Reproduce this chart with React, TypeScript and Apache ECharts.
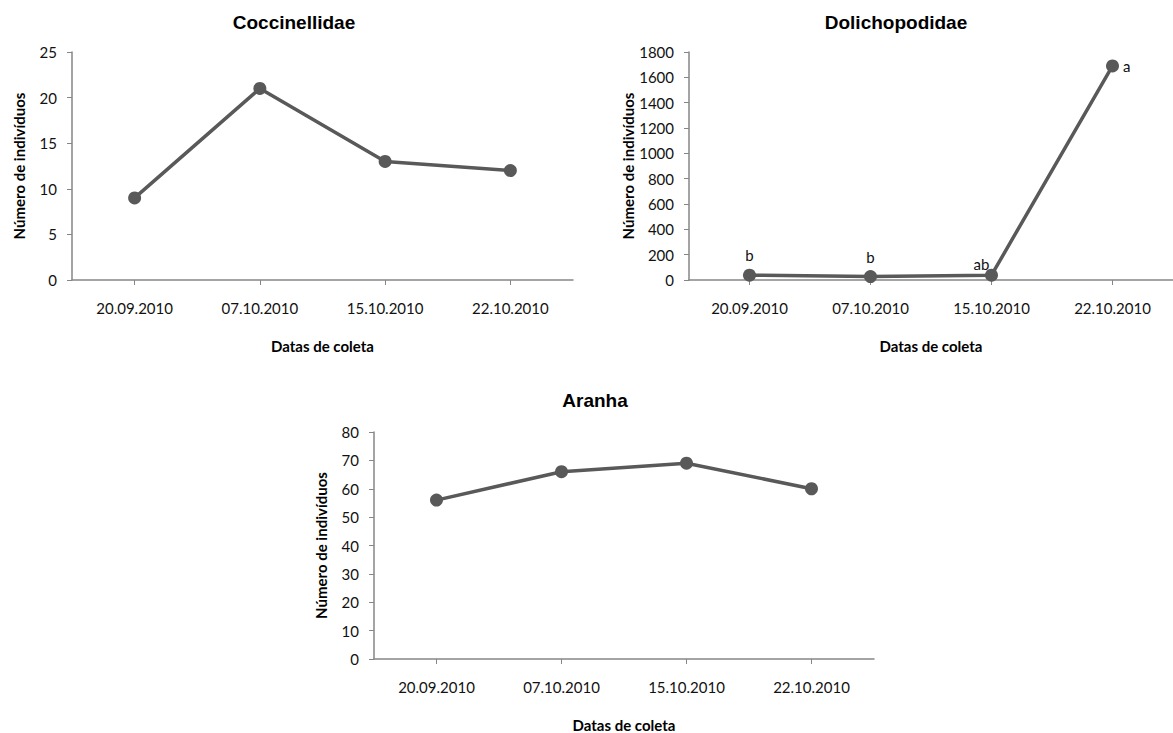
import React, { useEffect, useRef } from "react";
import * as echarts from "echarts";

const dates = ["20.09.2010", "07.10.2010", "15.10.2010", "22.10.2010"];
const coccinellidae = [9, 21, 13, 12];
const dolichopodidae = [38, 27, 38, 1690];
const dolichoLetters = ["b", "b", "ab", "a"];
const aranha = [56, 66, 69, 60];
const titles = ["Coccinellidae", "Dolichopodidae", "Aranha"];
const yName = "Número de indivíduos";
const xName = "Datas de coleta";

const LINE = "#595959";
const AXIS = "#868686";
const FONT = "Lato";

function xAxis(gridIndex: number) {
  return {
    type: "category",
    gridIndex,
    data: dates,
    boundaryGap: true,
    name: xName,
    nameLocation: "middle",
    nameGap: 58,
    nameTextStyle: { fontFamily: FONT, fontWeight: "bold", fontSize: 15, color: "#000" },
    axisLine: { show: true, lineStyle: { color: AXIS, width: 1.5 } },
    axisTick: { show: true, alignWithLabel: true, length: 5, lineStyle: { color: AXIS } },
    axisLabel: { fontFamily: FONT, fontSize: 15, color: "#111", margin: 20 },
    splitLine: { show: false },
  };
}

function yAxis(gridIndex: number, max: number, interval: number, nameGap: number) {
  return {
    type: "value",
    gridIndex,
    min: 0,
    max,
    interval,
    name: yName,
    nameLocation: "middle",
    nameRotate: 90,
    nameGap,
    nameTextStyle: { fontFamily: FONT, fontWeight: "bold", fontSize: 15, color: "#000" },
    axisLine: { show: true, lineStyle: { color: AXIS, width: 1.5 } },
    axisTick: { show: true, length: 5, lineStyle: { color: AXIS } },
    axisLabel: {
      fontFamily: FONT,
      fontSize: 15,
      color: "#111",
      margin: 15,
      formatter: (v: number) => String(v),
    },
    splitLine: { show: false },
  };
}

function lineSeries(idx: number, data: any[]) {
  return {
    type: "line",
    xAxisIndex: idx,
    yAxisIndex: idx,
    data,
    symbol: "circle",
    symbolSize: 13,
    lineStyle: { color: LINE, width: 3.5 },
    itemStyle: { color: LINE },
    z: 3,
  };
}

export default function App() {
  const ref = useRef<HTMLDivElement>(null);
  useEffect(() => {
    document.body.style.margin = "0";
    const chart = echarts.init(ref.current!, null, { renderer: "svg" });
    const labelPos = [
      { position: "top", distance: 6 },
      { position: "top", distance: 6 },
      { position: "top", distance: 1, offset: [-10, 4] },
      { position: "right", distance: 4 },
    ];
    const dolData = dolichopodidae.map((v, i) => ({
      value: v,
      label: {
        show: true,
        formatter: dolichoLetters[i],
        fontFamily: FONT,
        fontSize: 15,
        color: "#111",
        ...labelPos[i],
      },
    }));
    const titleStyle = { fontFamily: "Liberation Sans", fontWeight: "bold", fontSize: 19, color: "#000" };
    chart.setOption({
      animation: false,
      backgroundColor: "#fff",
      title: [
        { text: titles[0], left: 289, top: 8, textAlign: "center", textStyle: titleStyle },
        { text: titles[1], left: 891, top: 8, textAlign: "center", textStyle: titleStyle },
        { text: titles[2], left: 590, top: 386, textAlign: "center", textStyle: titleStyle },
      ],
      grid: [
        { left: 72, top: 52, width: 501, height: 228 },
        { left: 689, top: 52, width: 484, height: 228 },
        { left: 374, top: 432, width: 500, height: 227 },
      ],
      xAxis: [xAxis(0), xAxis(1), xAxis(2)],
      yAxis: [yAxis(0, 25, 5, 46), yAxis(1, 1800, 200, 54), yAxis(2, 80, 10, 46)],
      series: [
        lineSeries(0, coccinellidae),
        lineSeries(1, dolData),
        lineSeries(2, aranha),
      ],
    });
    return () => chart.dispose();
  }, []);
  return <div ref={ref} style={{ width: 1173, height: 733 }} />;
}
